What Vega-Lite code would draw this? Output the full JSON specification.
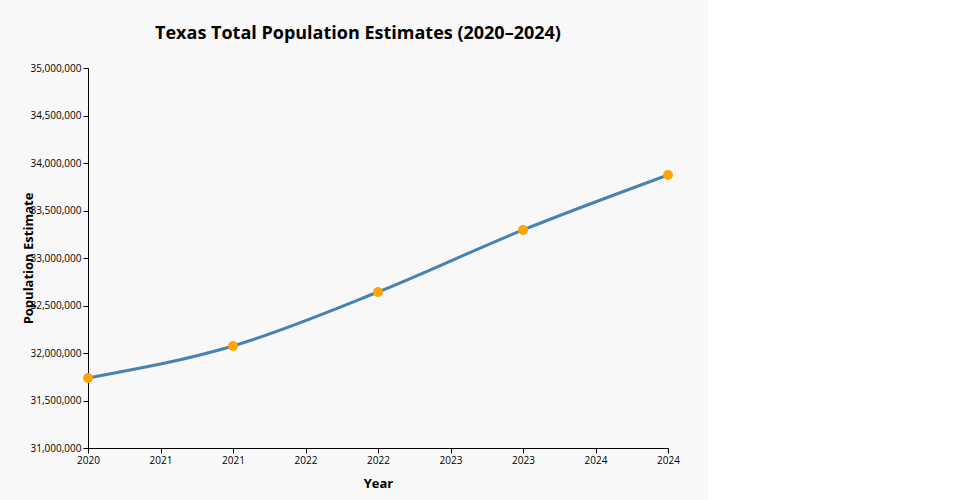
{
  "$schema": "https://vega.github.io/schema/vega-lite/v6.json",
  "autosize": {"type": "none"},
  "padding": {"left": 88, "top": 68, "right": 40, "bottom": 52},
  "width": 580,
  "height": 380,
  "background": "#f8f8f8",
  "title": {"text": "Texas Total Population Estimates (2020–2024)", "fontSize": 18, "font": "Open Sans", "fontWeight": "bold", "dx": -20, "offset": 20},
  "data": {"values": [
    {"Year": 2020, "Population": 31737000},
    {"Year": 2021, "Population": 32074000},
    {"Year": 2022, "Population": 32642000},
    {"Year": 2023, "Population": 33295000},
    {"Year": 2024, "Population": 33874000}
  ]},
  "encoding": {
    "x": {"field": "Year", "type": "quantitative", "scale": {"domain": [2020, 2024]},
          "axis": {"format": ".0f", "values": [2020, 2020.5, 2021, 2021.5, 2022, 2022.5, 2023, 2023.5, 2024], "labelFlush": false, "labelOverlap": false, "grid": false, "title": "Year", "titlePadding": 12}},
    "y": {"field": "Population", "type": "quantitative", "scale": {"domain": [31000000, 35000000], "zero": false},
          "axis": {"format": ",d", "grid": false, "title": "Population Estimate", "titlePadding": -5}}
  },
  "layer": [
    {"mark": {"type": "line", "interpolate": "monotone", "color": "#4682b4", "strokeWidth": 3}},
    {"mark": {"type": "point", "filled": true, "color": "#ffa500", "size": 100, "opacity": 1}}
  ],
  "config": {
    "view": {"stroke": null},
    "font": "Open Sans",
    "axis": {"domainColor": "#000", "tickColor": "#000", "labelFont": "Open Sans", "labelFontSize": 10, "labelColor": "#000",
             "titleFont": "Open Sans", "titleFontSize": 13, "titleFontWeight": "bold", "titleColor": "#000"}
  }
}
